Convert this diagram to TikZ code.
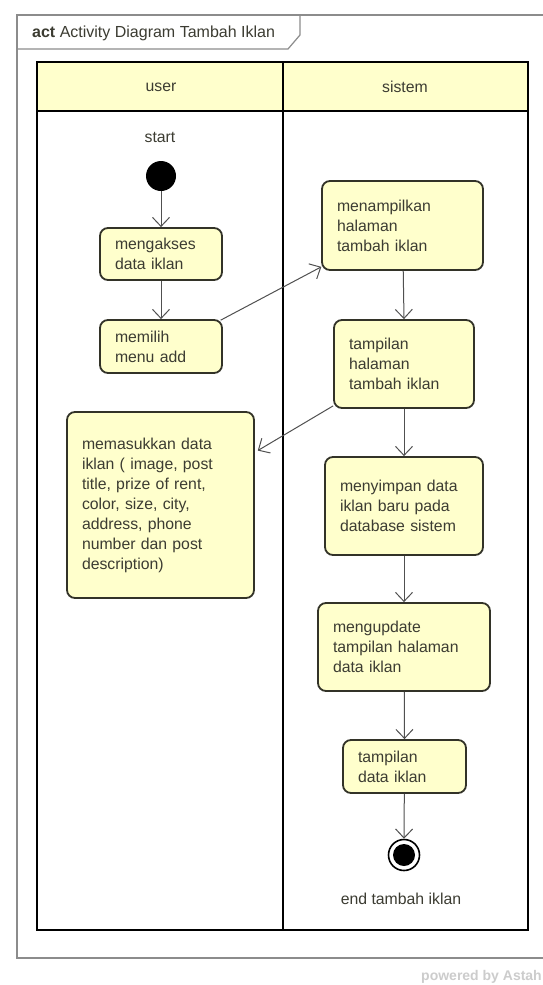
\documentclass[tikz,border=0pt]{standalone}
\usepackage{fontspec}
\setmainfont{Liberation Sans}
\usetikzlibrary{arrows.meta,calc}
\definecolor{actfill}{RGB}{255,255,204}
\definecolor{actline}{RGB}{51,51,40}
\definecolor{flowline}{RGB}{80,80,80}
\definecolor{framegray}{RGB}{140,140,140}
\definecolor{txt}{RGB}{60,60,50}
\tikzset{
  action/.style={draw=actline, line width=1.8pt, fill=actfill, rounded corners=8pt,
    inner xsep=15pt, inner ysep=4pt, align=left, text=txt,
    font=\fontsize{15.8}{20}\selectfont},
  flow/.style={draw=flowline, line width=1pt,
    -{Straight Barb[length=9pt,width=17pt,line width=1pt]}},
  lbl/.style={text=txt, font=\fontsize{15.8}{20}\selectfont},
}
\begin{document}
\begin{tikzpicture}[x=1pt,y=-1pt]
\useasboundingbox (0,0) rectangle (543,985);
\clip (0,0) rectangle (543,985);
\fill[white] (0,0) rectangle (543,985);

% outer diagram frame and its name tab
\draw[framegray, line width=1.2pt] (17,15) rectangle (560,958);
\draw[framegray, line width=1.2pt] (17,49) -- (288,49) -- (300,35) -- (300,15);
\node[anchor=west, text=txt, inner sep=0pt, font=\fontsize{16}{18}\selectfont] (title) at (32,33)
  {\textbf{act} Activity Diagram Tambah Iklan};

% swimlanes
\fill[actfill] (37,62) rectangle (528,111);
\draw[black, line width=2pt] (37,62) rectangle (528,930);
\draw[black, line width=2pt] (37,111) -- (528,111);
\draw[black, line width=2pt] (283,62) -- (283,930);
\node[lbl] (laneuser) at (161,87) {user};
\node[lbl] (lanesys) at (405,87) {sistem};

% start and end
\node[lbl] (startlbl) at (160,137) {start};
\node[circle, fill=black, minimum size=30pt, inner sep=0pt] (start) at (161,176) {};
\node[circle, draw=black, line width=1.6pt, fill=white, minimum size=31pt, inner sep=0pt] (end) at (404,855) {};
\node[circle, fill=black, minimum size=22pt, inner sep=0pt] (endin) at (404,855) {};
\node[lbl] (endlbl) at (401,899) {end tambah iklan};

% actions
\node[action, minimum width=122pt, minimum height=52pt, text width=92pt] (n1) at (161,254)
  {mengakses\\data iklan};
\node[action, minimum width=122pt, minimum height=53pt, text width=92pt] (n2) at (161,346.5)
  {memilih\\menu add};
\node[action, minimum width=161pt, minimum height=89pt, text width=131pt] (n3) at (402.5,225.5)
  {menampilkan\\halaman\\tambah iklan};
\node[action, minimum width=140pt, minimum height=88pt, text width=110pt] (n4) at (404,364)
  {tampilan\\halaman\\tambah iklan};
\node[action, minimum width=187pt, minimum height=186pt, text width=157pt] (n5) at (160.5,505)
  {memasukkan data\\iklan ( image, post\\title, prize of rent,\\color, size, city,\\address, phone\\number dan post\\description)};
\node[action, minimum width=158pt, minimum height=98pt, text width=128pt] (n6) at (404,506)
  {menyimpan data\\iklan baru pada\\database sistem};
\node[action, minimum width=172pt, minimum height=88pt, text width=142pt] (n7) at (404,647)
  {mengupdate\\tampilan halaman\\data iklan};
\node[action, minimum width=123pt, minimum height=53pt, text width=93pt] (n8) at (404.5,766.5)
  {tampilan\\data iklan};

% control flows
\draw[flow] (start) -- (n1.north);
\draw[flow] (n1) -- (n2.north);
\draw[flow, shorten <=2pt, shorten >=2pt] ($(n2.north east)+(-4,2)$) -- ($(n3.south west)+(2,-5)$);
\draw[flow] (n3) -- (n4.north);
\draw[flow, shorten >=1pt] ($(n4.south west)+(0,-3)$) -- ($(n5.north east)+(2,40)$);
\draw[flow] (n4) -- (n6.north);
\draw[flow] (n6) -- (n7.north);
\draw[flow] (n7) -- (n8.north);
\draw[flow] (n8) -- (end.north);

% footer
\node[anchor=east, inner sep=0pt, text=black!20, font=\bfseries\fontsize{14}{16}\selectfont] (footer) at (542,977)
  {powered by Astah};
\end{tikzpicture}
\end{document}
